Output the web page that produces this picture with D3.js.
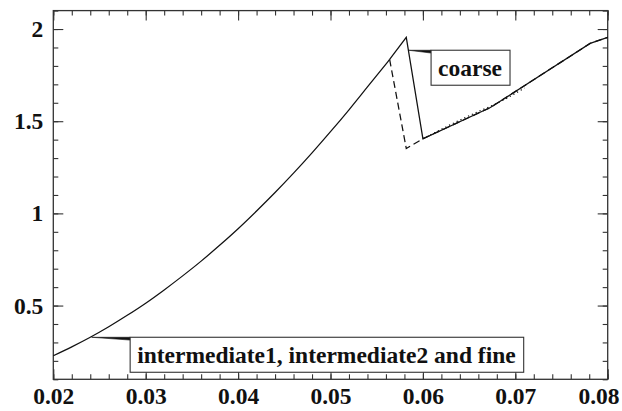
<!DOCTYPE html>
<html>
<head>
<meta charset="utf-8">
<script src="https://cdn.jsdelivr.net/npm/d3@7"></script>
<style>
  html, body { margin: 0; padding: 0; background: #fff; }
  svg { display: block; }
</style>
</head>
<body>
<div id="chart"></div>
<script>
// shared part of the curve (all grids agree here)
const baseX = [0.020, 0.022, 0.024, 0.026, 0.028, 0.030, 0.032, 0.034, 0.036, 0.038,
               0.040, 0.042, 0.044, 0.046, 0.048, 0.050, 0.052, 0.054, 0.0564];
const baseY = [0.228, 0.276, 0.328, 0.385, 0.447, 0.513, 0.585, 0.661, 0.741, 0.827,
               0.917, 1.013, 1.113, 1.218, 1.328, 1.443, 1.562, 1.686, 1.835];

// coarse (solid) after the shared part
const coarseTailX = [0.0564, 0.0582, 0.0600, 0.0673, 0.0781, 0.0800];
const coarseTailY = [1.835, 1.955, 1.405, 1.574, 1.922, 1.955];

// intermediate (dashed) after the shared part
const interTailX = [0.0564, 0.0582, 0.0600, 0.0673, 0.0781, 0.0800];
const interTailY = [1.835, 1.352, 1.405, 1.574, 1.922, 1.955];

// fine (dotted), visible stretch
const fineX = [0.0600, 0.0630, 0.0660, 0.0673, 0.0690, 0.0710];
const fineY = [1.405, 1.482, 1.553, 1.580, 1.622, 1.680];

const xTicks = [0.02, 0.03, 0.04, 0.05, 0.06, 0.07, 0.08];
const xTickLabels = ['0.02', '0.03', '0.04', '0.05', '0.06', '0.07', '0.08'];
const yTicks = [0.5, 1, 1.5, 2];
const yTickLabels = ['0.5', '1', '1.5', '2'];

const labels = [
  { text: 'coarse', ax: 0.05845, ay: 1.885, gap: 22.5 },
  { text: 'intermediate1, intermediate2 and fine', ax: 0.02415, ay: 0.328, gap: 38.5 }
];

const width = 622, height = 411;
const margin = { top: 10.6, right: 14.3, bottom: 31.7, left: 53.3 };

const x = d3.scaleLinear().domain([0.02, 0.08]).range([margin.left, width - margin.right]);
const y = d3.scaleLinear().domain([0.1, 2.1]).range([height - margin.bottom, margin.top]);

const svg = d3.select('#chart').append('svg')
    .attr('width', width)
    .attr('height', height);

const zip = (xs, ys) => xs.map((v, i) => [v, ys[i]]);
const base = zip(baseX, baseY);

const smooth = d3.line().x(d => x(d[0])).y(d => y(d[1])).curve(d3.curveMonotoneX);
const line = d3.line().x(d => x(d[0])).y(d => y(d[1]));

// minor ticks
const xMinor = d3.range(0.02, 0.0801, 0.002).map(v => +v.toFixed(3));
const yMinor = d3.range(0.1, 2.101, 0.1).map(v => +v.toFixed(1));

function tickAxis(axis, ticks, size, fmt) {
  return axis.tickValues(ticks).tickSize(size).tickPadding(fmt ? 8.5 : 0)
    .tickFormat(fmt || '');
}

const styleText = sel => sel
    .style('font-family', '"Liberation Serif"')
    .style('font-weight', 'bold')
    .style('font-size', '23.5px')
    .attr('fill', '#111');

const axes = svg.append('g');
const bottom = height - margin.bottom, right = width - margin.right;

const addAxis = (gen, tr) => {
  const g = axes.append('g').attr('transform', tr).call(gen)
      .attr('font-family', null).attr('font-size', null);
  g.select('.domain').remove();
  g.selectAll('line').attr('stroke', '#333').attr('stroke-width', 1.1);
  styleText(g.selectAll('text'));
  return g;
};

// bottom / top
addAxis(tickAxis(d3.axisBottom(x), xMinor, -5), `translate(0,${bottom})`);
const xb = addAxis(tickAxis(d3.axisBottom(x), xTicks, -10, (d, i) => xTickLabels[i]), `translate(0,${bottom})`);
addAxis(tickAxis(d3.axisTop(x), xMinor, -5), `translate(0,${margin.top})`);
addAxis(tickAxis(d3.axisTop(x), xTicks, -10), `translate(0,${margin.top})`);
// left / right
addAxis(tickAxis(d3.axisLeft(y), yMinor, -5), `translate(${margin.left},0)`);
addAxis(tickAxis(d3.axisLeft(y), yTicks, -10, (d, i) => yTickLabels[i]).tickPadding(10), `translate(${margin.left},0)`);
addAxis(tickAxis(d3.axisRight(y), yMinor, -5), `translate(${right},0)`);
addAxis(tickAxis(d3.axisRight(y), yTicks, -10), `translate(${right},0)`);

// last x label is pulled in so it stays inside the page
xb.selectAll('.tick').filter(d => d === 0.08).select('text')
    .attr('text-anchor', 'end').attr('x', width - 3 - right);

// frame
svg.append('rect')
    .attr('x', margin.left).attr('y', margin.top)
    .attr('width', right - margin.left).attr('height', bottom - margin.top)
    .attr('fill', 'none').attr('stroke', '#333').attr('stroke-width', 1.3);

// series
const plot = svg.append('g').attr('fill', 'none').attr('stroke', '#111').attr('stroke-width', 1.25);
plot.append('path').datum(zip(interTailX, interTailY)).attr('d', line)
    .attr('stroke-dasharray', '7,4');
plot.append('path').datum(zip(fineX, fineY)).attr('d', line)
    .attr('stroke-dasharray', '1.2,3');
plot.append('path').datum(base).attr('d', smooth);
plot.append('path').datum(zip(coarseTailX, coarseTailY)).attr('d', line)
    .attr('stroke-linejoin', 'miter');

// annotation boxes with wedge leaders
const boxH = 35;
labels.forEach(l => {
  const px = x(l.ax), py = y(l.ay);
  const bx = px + l.gap;
  const g = svg.append('g');
  const rect = g.append('rect');
  const t = g.append('text')
      .attr('x', bx + 7).attr('y', py + 26)
      .text(l.text)
      .call(styleText);
  const w = t.node().getComputedTextLength() + 15;
  rect.attr('x', bx).attr('y', py).attr('width', w).attr('height', boxH)
      .attr('fill', '#fff').attr('stroke', '#333').attr('stroke-width', 1.1);
  g.insert('path', 'rect')
      .attr('d', `M${px},${py}L${bx},${py}L${bx},${py + 2.8}Z`)
      .attr('fill', '#111').attr('stroke', '#111').attr('stroke-width', 0.6);
});
</script>
</body>
</html>
